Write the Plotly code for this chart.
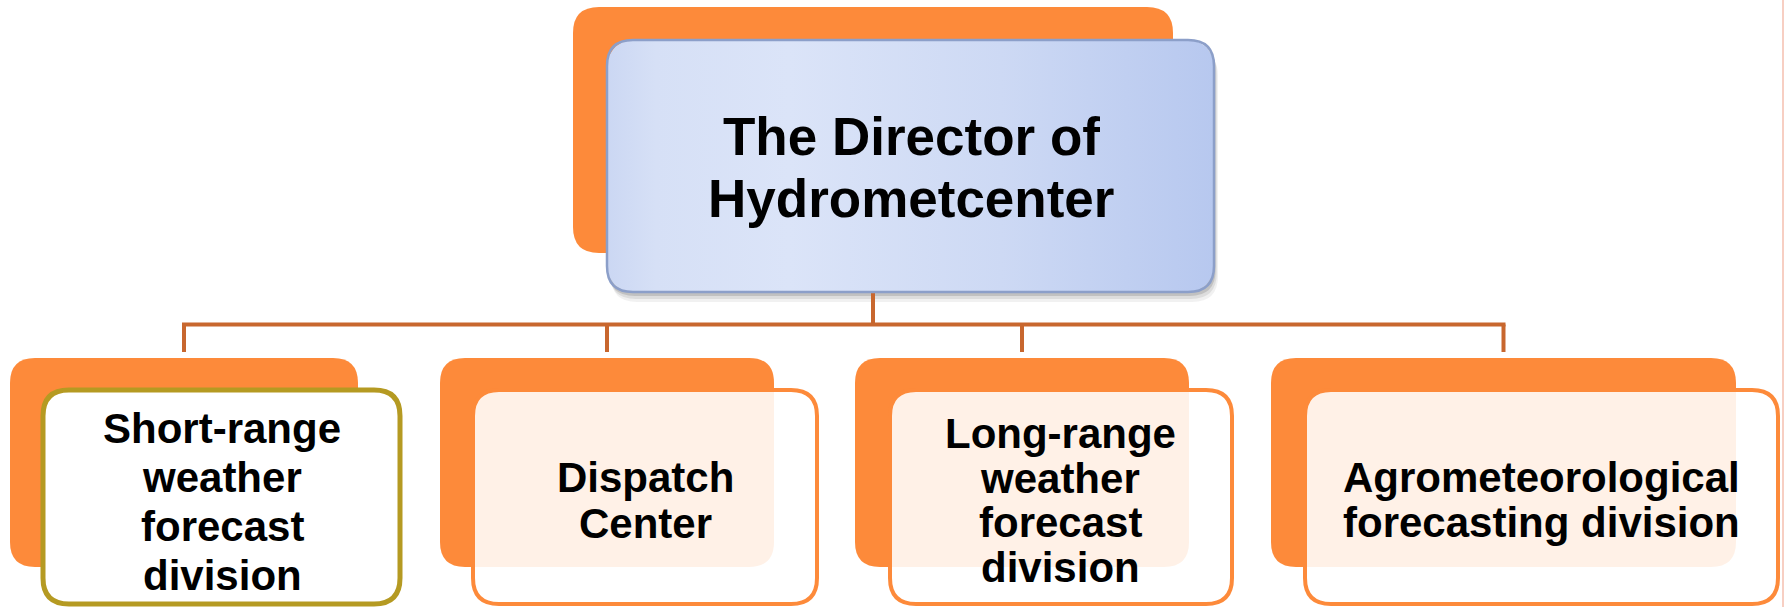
import numpy as np
import plotly.graph_objects as go

# ---- content ----
director_lines = ["The Director of", "Hydrometcenter"]
division_lines = [
    ["Short-range", "weather", "forecast", "division"],
    ["Dispatch", "Center"],
    ["Long-range", "weather", "forecast", "division"],
    ["Agrometeorological", "forecasting division"],
]

# ---- layout geometry (pixels, y downward) ----
W, H = 1784, 607
top_back = (573, 7, 1173, 253)
top_front = (607, 40, 1214, 292)
top_text = dict(x=911, y=167, spacing=62, size=53)

back_boxes = [(10, 358, 358, 567), (440, 358, 774, 567), (855, 358, 1189, 567), (1271, 358, 1736, 567)]
front_boxes = [(43, 390, 400, 604), (473, 390, 817, 604), (890, 390, 1232, 604), (1305, 390, 1778, 604)]
text_pos = [(222, 502, 48.7), (645, 500, 46), (1060, 500.5, 44.5), (1541, 499.5, 45)]
front_styles = [
    dict(line="#B59A22", fill="rgba(255,255,255,1)", width=5),
    dict(line="#FD8A3A", fill="rgba(255,255,255,0.88)", width=4),
    dict(line="#FD8A3A", fill="rgba(255,255,255,0.88)", width=4),
    dict(line="#FD8A3A", fill="rgba(255,255,255,0.88)", width=4),
]
stem_x = 873
bus_y = 324.5
drop_y = 352

ORANGE = "#FD8A3A"
CONNECT = "#C8672E"
BLUE_BORDER = "#8C9FC9"


def rr_path(x0, y0, x1, y1, r):
    return (f"M {x0+r},{y0} L {x1-r},{y0} Q {x1},{y0} {x1},{y0+r} "
            f"L {x1},{y1-r} Q {x1},{y1} {x1-r},{y1} L {x0+r},{y1} "
            f"Q {x0},{y1} {x0},{y1-r} L {x0},{y0+r} Q {x0},{y0} {x0+r},{y0} Z")


def rr_points(x0, y0, x1, y1, r, n=12):
    xs, ys = [], []
    corners = [(x1 - r, y0 + r, -np.pi / 2, 0), (x1 - r, y1 - r, 0, np.pi / 2),
               (x0 + r, y1 - r, np.pi / 2, np.pi), (x0 + r, y0 + r, np.pi, 1.5 * np.pi)]
    for cx, cy, a0, a1 in corners:
        t = np.linspace(a0, a1, n)
        xs += list(cx + r * np.cos(t))
        ys += list(cy + r * np.sin(t))
    xs.append(xs[0]); ys.append(ys[0])
    return xs, ys


fig = go.Figure()
shapes = []

# top back orange
shapes.append(dict(type="path", path=rr_path(*top_back, 26), fillcolor=ORANGE,
                   line=dict(width=0), layer="below"))
# shadow of top front
for off, op in [(10, 0.07), (7, 0.11), (4, 0.17)]:
    x0, y0, x1, y1 = top_front
    shapes.append(dict(type="path", path=rr_path(x0 + off * 0.4, y0 + off, x1 + off * 0.4, y1 + off, 26),
                       fillcolor=f"rgba(60,60,60,{op})", line=dict(width=0), layer="below"))

# gradient front box
gx, gy = rr_points(*top_front, 26)
fig.add_trace(go.Scatter(
    x=gx, y=gy, mode="lines", fill="toself", line=dict(width=0, color="rgba(0,0,0,0)"),
    fillgradient=dict(type="horizontal",
                      colorscale=[[0, "#cbd7f3"], [0.08, "#d6e0f6"], [0.3, "#dbe4f8"],
                                  [0.65, "#cdd9f4"], [1, "#b7c8ef"]]),
    hoverinfo="skip", showlegend=False))
shapes.append(dict(type="path", path=rr_path(*top_front, 26), fillcolor="rgba(0,0,0,0)",
                   line=dict(width=2.5, color=BLUE_BORDER), layer="above"))

# connectors
shapes.append(dict(type="line", x0=stem_x, y0=top_front[3] + 1, x1=stem_x, y1=bus_y,
                   line=dict(color=CONNECT, width=4), layer="below"))
drops = [(b[0] + b[2]) / 2 for b in back_boxes]
shapes.append(dict(type="line", x0=drops[0] - 2, y0=bus_y, x1=drops[-1] + 2, y1=bus_y,
                   line=dict(color=CONNECT, width=4), layer="below"))
for dx in drops:
    shapes.append(dict(type="line", x0=dx, y0=bus_y, x1=dx, y1=drop_y,
                       line=dict(color=CONNECT, width=4), layer="below"))

# bottom boxes
for bb, fb, st in zip(back_boxes, front_boxes, front_styles):
    shapes.append(dict(type="path", path=rr_path(*bb, 25), fillcolor=ORANGE,
                       line=dict(width=0), layer="above"))
    shapes.append(dict(type="path", path=rr_path(*fb, 26), fillcolor=st["fill"],
                       line=dict(width=st["width"], color=st["line"]), layer="above"))

# right edge thin line
shapes.append(dict(type="line", x0=1783, y0=0, x1=1783, y1=H,
                   line=dict(color="#F4BFAF", width=1.5), layer="above"))

annotations = []
n = len(director_lines)
for i, t in enumerate(director_lines):
    annotations.append(dict(
        x=top_text["x"], y=top_text["y"] + (i - (n - 1) / 2) * top_text["spacing"],
        text=t, showarrow=False, xanchor="center", yanchor="middle",
        font=dict(family="Liberation Sans, Arial", size=top_text["size"], color="black", weight="bold")))

for lines, (tx, ty, sp) in zip(division_lines, text_pos):
    n = len(lines)
    for i, t in enumerate(lines):
        annotations.append(dict(
            x=tx, y=ty + (i - (n - 1) / 2) * sp, text=t, showarrow=False,
            xanchor="center", yanchor="middle",
            font=dict(family="Liberation Sans, Arial", size=42, color="black", weight="bold")))

fig.update_layout(
    width=W, height=H, margin=dict(l=0, r=0, t=0, b=0),
    paper_bgcolor="white", plot_bgcolor="white",
    xaxis=dict(range=[0, W], visible=False, fixedrange=True),
    yaxis=dict(range=[H, 0], visible=False, fixedrange=True),
    shapes=shapes, annotations=annotations, showlegend=False,
)

fig.write_html("out.html", config={"displayModeBar": False},
               post_script="document.body.style.margin='0px';document.body.style.overflow='hidden';")
